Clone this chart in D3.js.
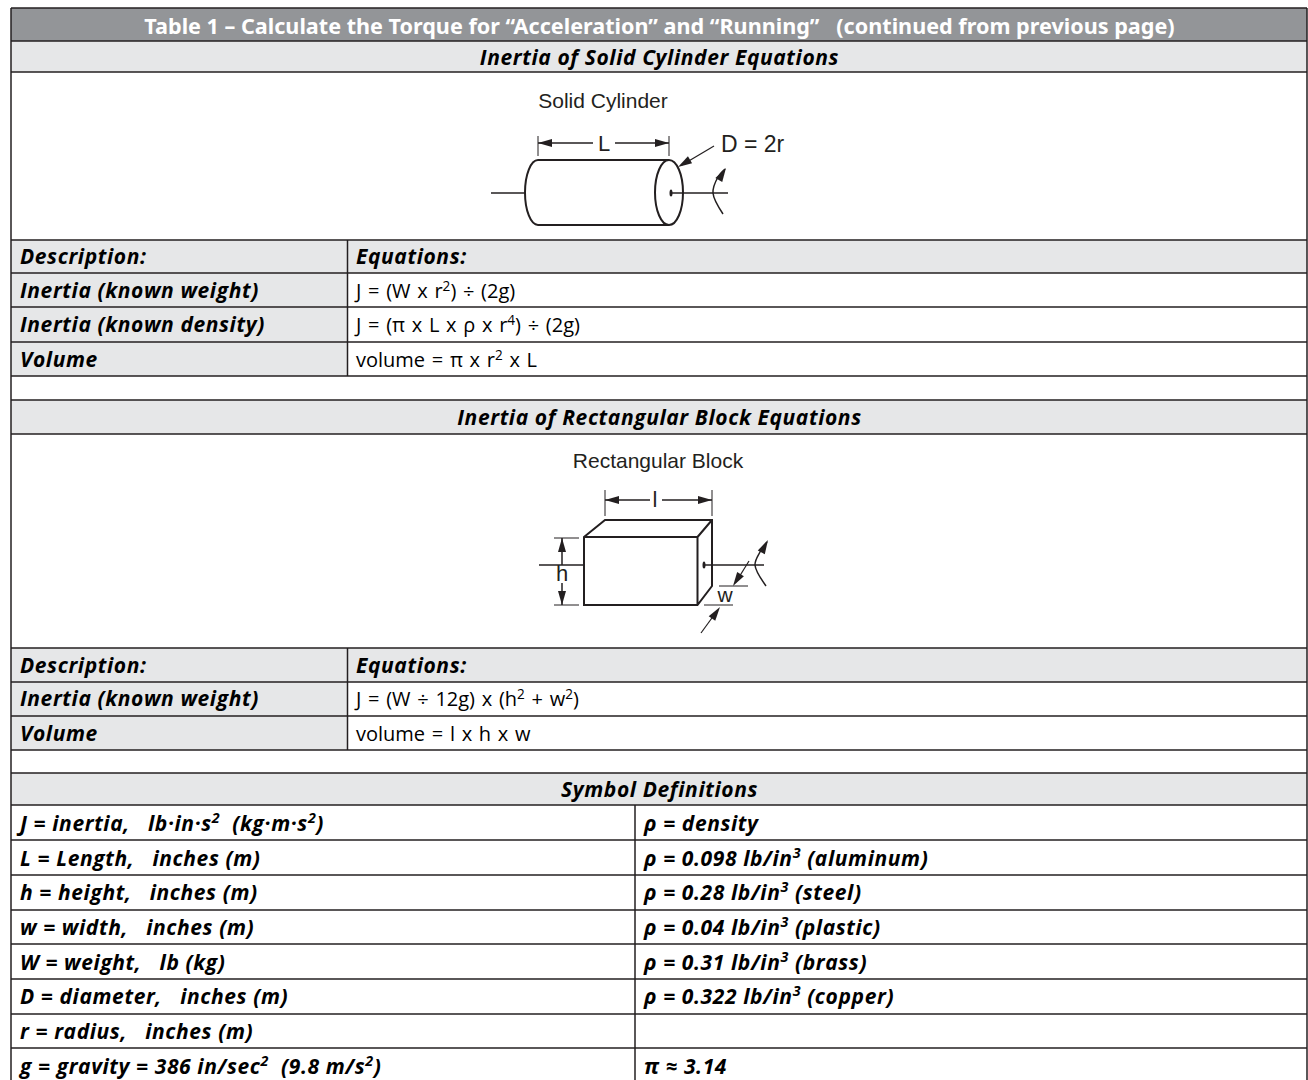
<!DOCTYPE html>
<html>
<head>
<meta charset="utf-8">
<script src="https://cdn.jsdelivr.net/npm/d3@7"></script>
<style>
  html, body { margin: 0; padding: 0; background: #fff; }
  svg { display: block; }
</style>
</head>
<body>
<div id="chart"></div>
<script>
let width = 1308, height = 1080;

// table text
const title = 'Table 1 – Calculate the Torque for “Acceleration” and “Running”   (continued from previous page)';
const cylinderTitle = 'Inertia of Solid Cylinder Equations';
const blockTitle = 'Inertia of Rectangular Block Equations';
const symbolTitle = 'Symbol Definitions';
const headLabels = ['Description:', 'Equations:'];
const cylinderNames = ['Inertia (known weight)', 'Inertia (known density)', 'Volume'];
const cylinderEquations = ['J = (W x r²) ÷ (2g)', 'J = (π x L x ρ x r⁴) ÷ (2g)', 'volume = π x r² x L'];
const blockNames = ['Inertia (known weight)', 'Volume'];
const blockEquations = ['J = (W ÷ 12g) x (h² + w²)', 'volume = l x h x w'];
const symbolsLeft = ['J = inertia,   lb·in·s²  (kg·m·s²)', 'L = Length,   inches (m)', 'h = height,   inches (m)',
  'w = width,   inches (m)', 'W = weight,   lb (kg)', 'D = diameter,   inches (m)', 'r = radius,   inches (m)',
  'g = gravity = 386 in/sec²  (9.8 m/s²)'];
const symbolsRight = ['ρ = density', 'ρ = 0.098 lb/in³ (aluminum)', 'ρ = 0.28 lb/in³ (steel)', 'ρ = 0.04 lb/in³ (plastic)',
  'ρ = 0.31 lb/in³ (brass)', 'ρ = 0.322 lb/in³ (copper)', '', 'π ≈ 3.14'];

// layout
const left = 11, right = 1307, col1 = 347.5, col2 = 635;
const darkGrey = '#939598', lightGrey = '#e6e7e8', ink = '#231f20';
const titleFont = '"Noto Sans", sans-serif';
const bodyFont = '"Open Sans", "Noto Sans", sans-serif';
const drawFont = '"Liberation Sans", Arial, sans-serif';
const superDigits = {'²': '2', '³': '3', '⁴': '4'};

let svg = d3.select('#chart').append('svg')
  .attr('width', width)
  .attr('height', height);

svg.append('rect').attr('width', width).attr('height', height).attr('fill', '#fff');

function band(y0, y1, fill) {
  svg.append('rect').attr('x', left).attr('y', y0).attr('width', right - left).attr('height', y1 - y0).attr('fill', fill);
}

function line(x1, y1, x2, y2, w) {
  svg.append('line')
    .attr('x1', x1).attr('y1', y1).attr('x2', x2).attr('y2', y2)
    .attr('stroke', ink).attr('stroke-width', w || 1.5);
}

function label(x, y, str, opts) {
  opts = opts || {};
  let size = opts.size || 21;
  let t = svg.append('text')
    .attr('x', x).attr('y', y)
    .attr('text-anchor', opts.anchor || 'start')
    .attr('font-family', opts.family || bodyFont)
    .attr('font-size', size)
    .attr('font-weight', opts.weight || 700)
    .attr('font-style', opts.style || 'italic')
    .attr('letter-spacing', opts.tracking === undefined ? 0.6 : opts.tracking)
    .attr('word-spacing', opts.wordSpacing || 0)
    .attr('fill', opts.fill || '#000')
    .style('white-space', 'pre');
  // superscripts become small raised digits, the next piece drops back to the baseline
  let rise = size * 0.36, back = 0;
  str.split(/([²³⁴])/).forEach(function (part) {
    if (!part) return;
    if (superDigits[part]) {
      t.append('tspan').attr('font-size', size * 0.68).attr('dy', -rise).text(superDigits[part]);
      back = rise;
    } else {
      t.append('tspan').attr('dy', back).text(part);
      back = 0;
    }
  });
  return t;
}

// grey bands
band(8, 41, darkGrey);
band(41, 72, lightGrey);
band(240, 273, lightGrey);
band(273, 376, lightGrey);
svg.append('rect').attr('x', col1).attr('y', 273).attr('width', right - col1).attr('height', 103).attr('fill', '#fff');
band(400, 434, lightGrey);
band(648, 750, lightGrey);
svg.append('rect').attr('x', col1).attr('y', 682).attr('width', right - col1).attr('height', 68).attr('fill', '#fff');
band(773, 805, lightGrey);

// rules
const ruleRows = [8, 41, 72, 240, 273, 307, 342, 376, 400, 434, 648, 682, 716, 750, 773, 805, 840, 875, 910, 944, 979, 1014, 1048];
ruleRows.forEach(function (y) { line(left, y, right, y); });
line(left, 8, left, height);
line(right, 8, right, height);
line(col1, 240, col1, 376);
line(col1, 648, col1, 750);
line(col2, 805, col2, height);

// titles
label(659.5, 34, title, {anchor: 'middle', fill: '#fff', size: 21.6, style: 'normal', family: titleFont, tracking: 0});
label(659.5, 65, cylinderTitle, {anchor: 'middle'});
label(659.5, 425, blockTitle, {anchor: 'middle'});
label(659.5, 797, symbolTitle, {anchor: 'middle'});

// description / equation rows
function eqRows(yHead, rowY, names, equations) {
  label(20, yHead, headLabels[0]);
  label(356, yHead, headLabels[1]);
  names.forEach(function (n, i) {
    label(20, rowY[i], n);
    label(356, rowY[i], equations[i], {weight: 400, style: 'normal', size: 20, wordSpacing: 1.5, tracking: 0});
  });
}
eqRows(264, [298, 332, 367], cylinderNames, cylinderEquations);
eqRows(673, [706, 741], blockNames, blockEquations);

// symbol rows
const symbolY = [831, 866, 900, 935, 970, 1004, 1039, 1074];
symbolsLeft.forEach(function (s, i) { label(20, symbolY[i], s); });
symbolsRight.forEach(function (s, i) { label(644, symbolY[i], s); });

// solid arrow head pointing at (x, y) coming from (fx, fy)
function head(x, y, fx, fy) {
  let len = 14, wid = 4;
  let a = Math.atan2(y - fy, x - fx);
  let bx = x - len * Math.cos(a), by = y - len * Math.sin(a);
  let nx = -Math.sin(a) * wid, ny = Math.cos(a) * wid;
  svg.append('path')
    .attr('d', 'M' + x + ',' + y + 'L' + (bx + nx) + ',' + (by + ny) + 'L' + (bx - nx) + ',' + (by - ny) + 'Z')
    .attr('fill', ink);
}

function curve(pts) {
  let p = d3.line().curve(d3.curveCatmullRom)(pts);
  svg.append('path').attr('d', p).attr('fill', 'none').attr('stroke', ink).attr('stroke-width', 1.5);
}

function drawText(x, y, str, size, anchor) {
  label(x, y, str, {family: drawFont, size: size, weight: 400, style: 'normal', fill: ink, anchor: anchor || 'middle', tracking: 0});
}

// solid cylinder drawing
drawText(603, 108, 'Solid Cylinder', 21);
line(538, 136, 538, 156, 1);
line(669, 136, 669, 156, 1);
line(538, 143, 593, 143, 1.5);
line(615, 143, 669, 143, 1.5);
head(538, 143, 550, 143);
head(669, 143, 657, 143);
drawText(604, 151, 'L', 22);
drawText(721, 152, 'D = 2r', 23, 'start');
line(714, 146, 682, 165, 1.2);
head(678, 167, 688, 161);
line(491, 193, 525, 193);
line(538, 160, 669, 160, 2);
line(538, 225, 669, 225, 2);
svg.append('path').attr('d', 'M538,160A13,32.5 0 0 0 538,225').attr('fill', 'none').attr('stroke', ink).attr('stroke-width', 2);
svg.append('ellipse').attr('cx', 669).attr('cy', 192.5).attr('rx', 14).attr('ry', 32.5).attr('fill', 'none').attr('stroke', ink).attr('stroke-width', 2);
svg.append('ellipse').attr('cx', 671).attr('cy', 193).attr('rx', 1.5).attr('ry', 3.5).attr('fill', ink);
line(671, 193, 728, 193);
curve([[723, 214], [713, 193], [718, 177], [725, 169]]);
head(726, 168, 720, 178);

// rectangular block drawing
drawText(658, 468, 'Rectangular Block', 21);
line(605, 490, 605, 516, 1);
line(712, 490, 712, 516, 1);
line(605, 500, 650, 500, 1.5);
line(662, 500, 712, 500, 1.5);
head(605, 500, 617, 500);
head(712, 500, 700, 500);
drawText(655, 507, 'l', 22);
svg.append('path')
  .attr('d', 'M584,537L605,520H712V586L697.5,605H584ZM584,537H697.5V605M697.5,537L712,520')
  .attr('fill', 'none').attr('stroke', ink).attr('stroke-width', 2);
line(554, 538, 579, 538, 1);
line(554, 605, 579, 605, 1);
line(562, 538, 562, 565, 1.5);
line(562, 583, 562, 605, 1.5);
head(562, 538, 562, 550);
head(562, 605, 562, 593);
drawText(562, 581, 'h', 22);
line(539, 565, 584, 565);
svg.append('ellipse').attr('cx', 704).attr('cy', 565).attr('rx', 1.5).attr('ry', 3.5).attr('fill', ink);
line(704, 565, 764, 565);
curve([[766, 586], [755, 565], [760, 552], [767, 542]]);
head(768, 540, 762, 551);
line(719, 586, 748, 586, 1);
line(704, 605, 733, 605, 1);
line(749, 561, 736, 582, 1.2);
head(733, 586, 740, 575);
line(701, 633, 717, 611, 1.2);
head(720, 607, 713, 617);
drawText(725, 602, 'w', 21);
</script>
</body>
</html>
